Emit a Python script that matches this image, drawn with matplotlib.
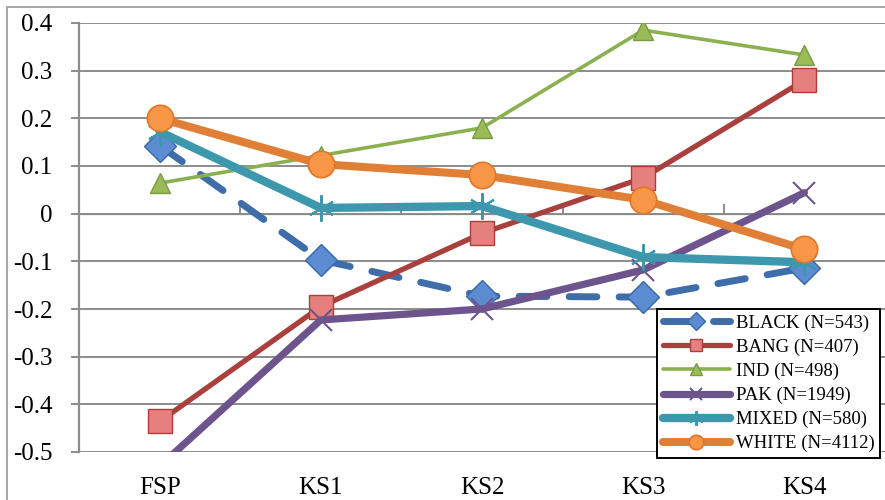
import matplotlib
matplotlib.use("Agg")
import matplotlib.pyplot as plt
from matplotlib.patches import Rectangle

# Stages and standardised scores per ethnic group
stages = ["FSP", "KS1", "KS2", "KS3", "KS4"]
black = [0.143, -0.097, -0.173, -0.175, -0.114]
bang = [-0.436, -0.195, -0.041, 0.075, 0.280]
ind = [0.064, 0.122, 0.180, 0.385, 0.333]
pak = [-0.53, -0.223, -0.200, -0.118, 0.044]
mixed = [0.172, 0.012, 0.016, -0.091, -0.102]
white = [0.200, 0.104, 0.081, 0.029, -0.075]
labels = ["BLACK (N=543)", "BANG (N=407)", "IND (N=498)",
          "PAK (N=1949)", "MIXED (N=580)", "WHITE (N=4112)"]
yticks = [0.4, 0.3, 0.2, 0.1, 0, -0.1, -0.2, -0.3, -0.4, -0.5]
ytick_labels = ["0.4", "0.3", "0.2", "0.1", "0", "-0.1", "-0.2", "-0.3", "-0.4", "-0.5"]

plt.rcParams["font.family"] = ["Liberation Serif", "DejaVu Serif"]

fig = plt.figure(figsize=(8.85, 5.0), dpi=100)
ax = fig.add_axes([79 / 885, 48 / 500, 806 / 885, 429 / 500])

grid_c = "#8C8C8C"
ax.set_ylim(-0.5, 0.4)
ax.set_xlim(-0.5, len(stages) - 0.5)
ax.set_yticks(yticks)
ax.set_yticklabels(ytick_labels)
ax.yaxis.grid(True, color=grid_c, linewidth=1.4)
ax.set_axisbelow(True)
ax.tick_params(axis="y", direction="out", length=6, width=1.4, color=grid_c,
               pad=13, labelsize=18)
ax.set_xticks(range(len(stages)))
ax.set_xticklabels(stages)
ax.tick_params(axis="x", length=0, pad=18, labelsize=18)
for s in ("top", "right", "bottom"):
    ax.spines[s].set_visible(False)
ax.spines["left"].set_color(grid_c)
ax.spines["left"].set_linewidth(1.6)

# category boundary ticks on the zero line
zero_frac = (0 - ax.get_ylim()[0]) / (ax.get_ylim()[1] - ax.get_ylim()[0])
sec = ax.secondary_xaxis(zero_frac)
sec.set_xticks([i + 0.5 for i in range(len(stages) - 1)])
sec.set_xticklabels([])
sec.tick_params(direction="out", length=7, width=1.4, color=grid_c)
sec.spines["bottom"].set_visible(False)

x = range(len(stages))
ax.plot(x, black, color="#3F6DAA", lw=5, dashes=(4, 3.2), dash_capstyle="round",
        marker="D", ms=16, mfc="#5B8BD0", mec="#3A68A5", mew=1, label=labels[0], zorder=3)
ax.plot(x, bang, color="#A9403D", lw=3.8, solid_capstyle="round",
        marker="s", ms=17, mfc="#E5807E", mec="#B03C3A", mew=1, label=labels[1], zorder=4)
ax.plot(x, ind, color="#8AB04F", lw=2.6, solid_capstyle="round",
        marker="^", ms=15, mfc="#9BBB59", mec="#7A9A42", mew=1, label=labels[2], zorder=5)
ax.plot(x, pak, color="#6E548D", lw=5.2, solid_capstyle="round",
        marker="x", ms=16, mec="#6E548D", mew=1.5, label=labels[3], zorder=6)
ax.plot(x, mixed, color="#3D98AE", lw=6, solid_capstyle="round",
        marker=(6, 2, 0), ms=19, mec="#3D98AE", mew=1.5, label=labels[4], zorder=7)
ax.plot(x, white, color="#E07F35", lw=5.8, solid_capstyle="round",
        marker="o", ms=19, mfc="#F79646", mec="#E0762A", mew=1.2, label=labels[5], zorder=8)

leg = fig.legend(loc="upper left", bbox_to_anchor=(657 / 885, 1 - 309 / 500),
                 bbox_transform=fig.transFigure, fontsize=13.5, frameon=True,
                 fancybox=False, framealpha=1, edgecolor="black",
                 handlelength=3.6, handletextpad=0.3, labelspacing=0.36,
                 borderpad=0.3, markerscale=0.55, borderaxespad=0)
leg.get_frame().set_linewidth(1.4)

fig.patches.append(Rectangle((7 / 885, -0.05), 1.2, 1 - 7 / 500 + 0.05,
                             transform=fig.transFigure, fill=False,
                             edgecolor="#A6A6A6", linewidth=1.4))

fig.savefig("out.png", dpi=100)
